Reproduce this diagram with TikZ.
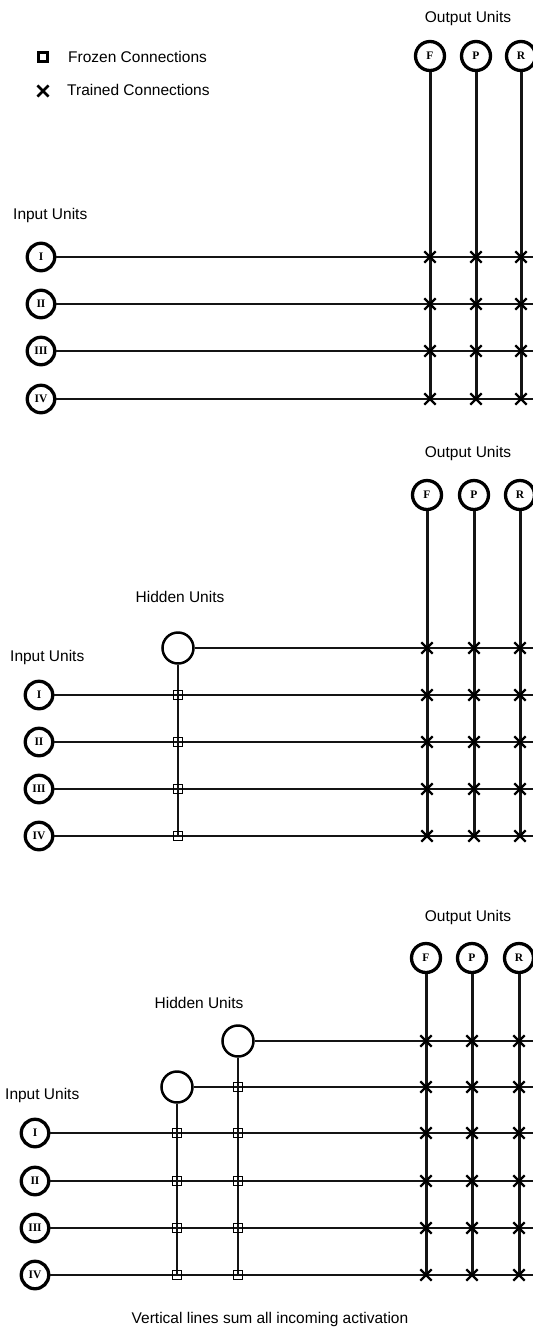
\documentclass[tikz,border=0pt]{standalone}
\usepackage{fontspec}
\setmainfont{Liberation Sans}
\newfontfamily\unitfont{Liberation Serif}
\usetikzlibrary{shapes.misc}
\tikzset{
  wire/.style={line width=2.8pt, black!92},
  unit/.style={circle, draw, line width=3.3pt, inner sep=0pt, minimum size=27.5pt,
               font=\unitfont\bfseries\fontsize{11.5}{11.5}\selectfont},
  outunit/.style={unit, minimum size=29pt},
  hidunit/.style={circle, draw, line width=2.5pt, inner sep=0pt, minimum size=31pt},
  trained/.style={cross out, draw, line width=2.3pt, inner sep=0pt, minimum size=9pt},
  frozen/.style={rectangle, draw, line width=1.5pt, inner sep=0pt, minimum size=9pt},
  lbl/.style={font=\fontsize{15.5}{16}\selectfont, inner sep=0pt},
}
\begin{document}
\begin{tikzpicture}[x=1pt,y=-1pt]
\useasboundingbox (0,0) rectangle (533,1334);
\begin{scope}
\clip (0,0) rectangle (533,1334);

% ---------- legend ----------
\node[frozen, line width=2.6pt, minimum size=9.5pt] (lgsq) at (43,57) {};
\node[lbl, anchor=west] (lgsqt) at (68,57) {Frozen Connections};
\node[cross out, draw, line width=2.6pt, minimum size=8.5pt, inner sep=0pt] (lgx) at (43,91) {};
\node[lbl, anchor=west] (lgxt) at (67,90) {Trained Connections};

% ---------- network 1: inputs straight to outputs ----------
\node[lbl] (ol1) at (468,18) {Output Units};
\node[lbl, anchor=west] (il1) at (13,215) {Input Units};
\foreach \n/\x in {F/430,P/476,R/521}{
  \node[outunit] (o1\n) at (\x,56) {\n};
  \coordinate (o1\n b) at (\x,400);
  \draw[wire, line width=3pt] (o1\n) -- (o1\n b);
}
\foreach \r/\y/\t in {1/257/I,2/304/II,3/351/III,4/399/IV}{
  \node[unit] (i1\r) at (41,\y) {\t};
  \coordinate (e1\r) at (540,\y);
  \draw[wire] (i1\r) -- (e1\r);
  \foreach \n/\x in {F/430,P/476,R/521}
    \node[trained] at (\x,\y) {};
}

% ---------- network 2: one hidden unit ----------
\node[lbl] (ol2) at (468,453) {Output Units};
\node[lbl] (hl2) at (180,597) {Hidden Units};
\node[lbl, anchor=west] (il2) at (10,657) {Input Units};
\node[hidunit] (h2a) at (178,648) {};
\coordinate (h2ab) at (178,837);
\coordinate (h2ae) at (540,648);
\draw[wire] (h2a) -- (h2ab);
\draw[wire] (h2a) -- (h2ae);
\foreach \n/\x in {F/427,P/474,R/520}{
  \node[outunit] (o2\n) at (\x,495) {\n};
  \coordinate (o2\n b) at (\x,838);
  \draw[wire, line width=3pt] (o2\n) -- (o2\n b);
  \node[trained] at (\x,648) {};
}
\foreach \r/\y/\t in {1/695/I,2/742/II,3/789/III,4/836/IV}{
  \node[unit] (i2\r) at (39,\y) {\t};
  \coordinate (e2\r) at (540,\y);
  \draw[wire] (i2\r) -- (e2\r);
  \node[frozen] at (178,\y) {};
  \foreach \n/\x in {F/427,P/474,R/520}
    \node[trained] at (\x,\y) {};
}

% ---------- network 3: two hidden units ----------
\node[lbl] (ol3) at (468,917) {Output Units};
\node[lbl] (hl3) at (199,1003) {Hidden Units};
\node[lbl, anchor=west] (il3) at (5,1095) {Input Units};
\node[hidunit] (h3b) at (238,1041) {};
\node[hidunit] (h3a) at (177,1087) {};
\coordinate (h3ab) at (177,1276);
\coordinate (h3bb) at (238,1276);
\coordinate (h3ae) at (540,1087);
\coordinate (h3be) at (540,1041);
\draw[wire] (h3a) -- (h3ab);
\draw[wire] (h3b) -- (h3bb);
\draw[wire] (h3a) -- (h3ae);
\draw[wire] (h3b) -- (h3be);
\node[frozen] at (238,1087) {};
\foreach \n/\x in {F/426,P/472,R/519}{
  \node[outunit] (o3\n) at (\x,958) {\n};
  \coordinate (o3\n b) at (\x,1277);
  \draw[wire, line width=3pt] (o3\n) -- (o3\n b);
  \node[trained] at (\x,1041) {};
  \node[trained] at (\x,1087) {};
}
\foreach \r/\y/\t in {1/1133/I,2/1181/II,3/1228/III,4/1275/IV}{
  \node[unit] (i3\r) at (35,\y) {\t};
  \coordinate (e3\r) at (540,\y);
  \draw[wire] (i3\r) -- (e3\r);
  \node[frozen] at (177,\y) {};
  \node[frozen] at (238,\y) {};
  \foreach \n/\x in {F/426,P/472,R/519}
    \node[trained] at (\x,\y) {};
}

\node[lbl] (cap) at (270,1319) {Vertical lines sum all incoming activation};
\end{scope}
\end{tikzpicture}
\end{document}
